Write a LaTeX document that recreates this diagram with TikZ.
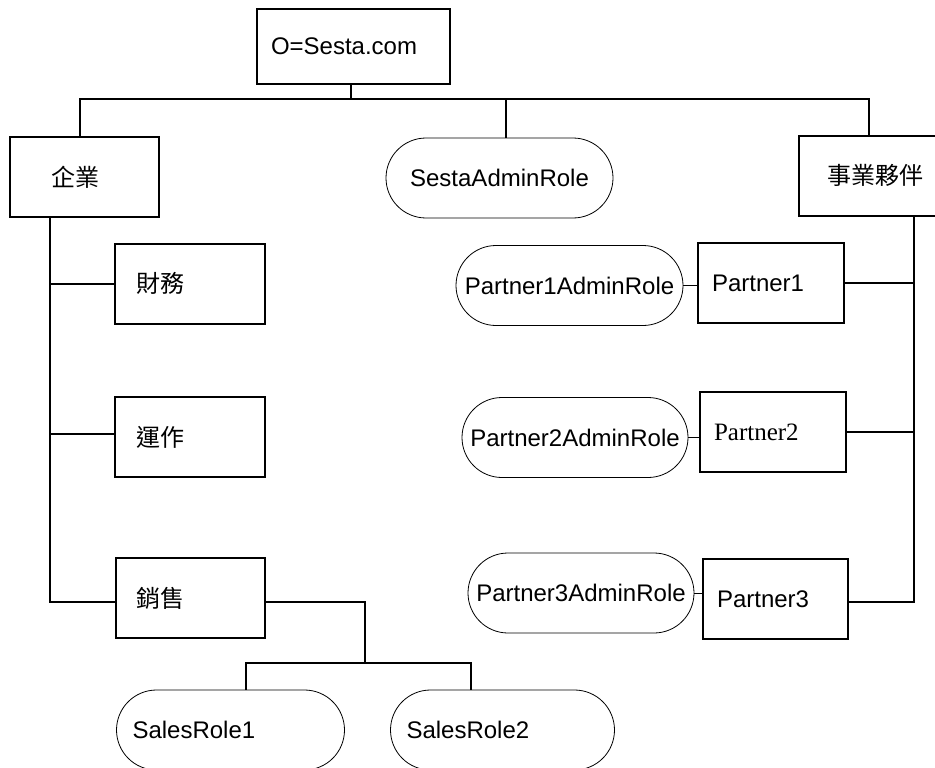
\documentclass[tikz,border=0pt]{standalone}
\usepackage{fontspec}
\setmainfont{Liberation Sans}
\newfontfamily\cjk{Noto Sans CJK TC}
\newfontfamily\timesface{Liberation Serif}
\usepackage{tikz}
\usetikzlibrary{positioning}

\begin{document}
\begin{tikzpicture}[x=1pt, y=-1pt, font=\fontsize{24}{28}\selectfont,
    box/.style={draw, rectangle, line width=2pt, minimum height=80pt, inner xsep=14pt, align=left},
    role/.style={draw, rectangle, rounded corners=40pt, line width=0.8pt, minimum height=80pt, minimum width=227pt, align=center},
    link/.style={line width=2pt},
    rolelink/.style={line width=0.8pt}]
    \useasboundingbox (0,0) rectangle (935,768);

    \node [box, text width=165pt, minimum height=75pt] (root) at (353.5,46.5) {O=Sesta.com};

    \node [box, inner xsep=41pt, text width=67pt, below of=root, node distance=130.5pt, xshift=-269pt] (corp) {\cjk 企業};
    \node [role, below of=root, node distance=131.5pt, xshift=146pt] (sesta) {SestaAdminRole};
    \node [box, text width=124pt, align=center, below of=root, node distance=129pt, xshift=521.5pt] (partners) {\cjk 事業夥伴};

    \node [box, inner xsep=21pt, text width=108pt, below of=corp, node distance=106.5pt, xshift=105.5pt] (finance) {\cjk 財務};
    \node [box, inner xsep=21pt, text width=108pt, below of=finance, node distance=153.5pt] (ops) {\cjk 運作};
    \node [box, inner xsep=21pt, text width=107pt, below of=ops, node distance=161pt] (sales) {\cjk 銷售};

    \node [role, minimum width=228pt, text width=196pt, inner xsep=16pt, align=left, below of=sales, node distance=132pt, xshift=40.5pt] (salesrole1) {SalesRole1};
    \node [role, minimum width=224pt, text width=192pt, inner xsep=16pt, align=left, right of=salesrole1, node distance=272pt] (salesrole2) {SalesRole2};

    \node [box, text width=118pt, below of=partners, node distance=107.5pt, xshift=-104pt] (p1) {Partner1};
    \node [box, text width=118pt, below of=p1, node distance=149pt, xshift=2pt] (p2) {\timesface\fontsize{25}{28}\selectfont Partner2};
    \node [box, text width=117pt, below of=p2, node distance=167pt, xshift=2.5pt] (p3) {Partner3};

    \node [role, left of=p1, node distance=201.5pt, yshift=-2.5pt] (p1role) {Partner1AdminRole};
    \node [role, minimum width=226pt, left of=p2, node distance=198pt, yshift=-5.5pt] (p2role) {Partner2AdminRole};
    \node [role, minimum width=226pt, left of=p3, node distance=194.5pt, yshift=6pt] (p3role) {Partner3AdminRole};

    % top level
    \coordinate (bus) at (351,99);
    \draw [link] (root.south -| bus) -- (bus);
    \draw [link] ([xshift=-4.5pt]corp.north) |- (bus) -| ([xshift=-6pt]partners.north);
    \draw [link] ([xshift=6.5pt]sesta.north) -- ([xshift=6.5pt]sesta.north |- bus);

    % corporate side
    \coordinate (ltrunk) at ([xshift=-34.5pt]corp.south);
    \draw [link] (ltrunk) |- ([yshift=-4pt]sales.west);
    \draw [link] (finance.west) -- (finance.west -| ltrunk);
    \draw [link] ([yshift=3pt]ops.west) -- ([yshift=3pt]ops.west -| ltrunk);

    \coordinate (sjoin) at ([xshift=99pt, yshift=-65pt]sales.east);
    \draw [link] ([yshift=-4pt]sales.east) -| (sjoin);
    \draw [link] ([xshift=15pt]salesrole1.north) |- (sjoin) -| ([xshift=-32pt]salesrole2.north);

    % partner side
    \coordinate (rtrunk) at ([xshift=39pt]partners.south);
    \draw [link] (rtrunk) |- ([yshift=-3pt]p3.east);
    \draw [link] (p1.east) -- (p1.east -| rtrunk);
    \draw [link] (p2.east) -- (p2.east -| rtrunk);

    \draw [rolelink] (p1role.east) -- (p1role.east -| p1.west);
    \draw [rolelink] (p2role.east) -- (p2role.east -| p2.west);
    \draw [rolelink] (p3role.east) -- (p3role.east -| p3.west);
\end{tikzpicture}
\end{document}
